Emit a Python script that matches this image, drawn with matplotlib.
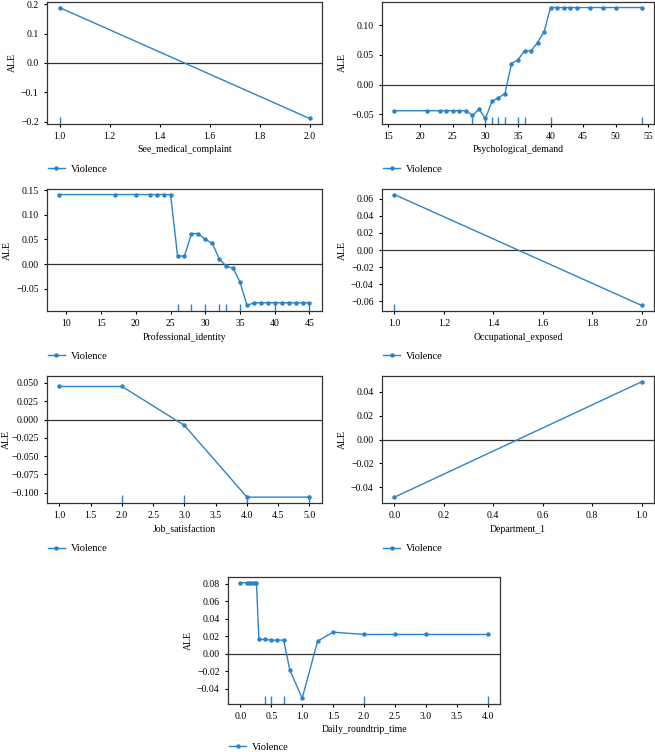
import matplotlib
matplotlib.use("Agg")
import matplotlib.pyplot as plt
import matplotlib.transforms as mtransforms
from matplotlib.ticker import MultipleLocator

plt.rcParams['font.family'] = ['Liberation Serif', 'DejaVu Serif']
plt.rcParams['font.size'] = 7
plt.rcParams['axes.linewidth'] = 0.9
plt.rcParams['xtick.major.size'] = 2.5
plt.rcParams['ytick.major.size'] = 2.5
plt.rcParams['xtick.major.width'] = 0.8
plt.rcParams['ytick.major.width'] = 0.8
plt.rcParams['xtick.labelsize'] = 7
plt.rcParams['ytick.labelsize'] = 7
plt.rcParams['axes.labelsize'] = 7
plt.rcParams['axes.edgecolor'] = '#333333'

# ---- data ----
see_x = [1.0, 2.0]
see_y = [0.188, -0.188]
see_rug = [1.0]

psy_x = [16, 21, 23, 24, 25, 26, 27, 28, 29, 30, 31, 32, 33, 34, 35, 36, 37, 38, 39,
         40, 41, 42, 43, 44, 46, 48, 50, 54]
psy_y = [-0.044, -0.044, -0.044, -0.044, -0.044, -0.044, -0.044, -0.052, -0.0415, -0.057,
         -0.028, -0.022, -0.015, 0.0355, 0.042, 0.057, 0.057, 0.071, 0.089,
         0.130, 0.130, 0.130, 0.130, 0.130, 0.130, 0.130, 0.130, 0.130]
psy_rug = [28, 30, 31, 32, 33, 35, 36, 40, 54]

pro_x = [9, 17, 20, 22, 23, 24, 25, 26, 27, 28, 29, 30, 31, 32, 33, 34, 35, 36, 37, 38,
         39, 40, 41, 42, 43, 44, 45]
pro_y = [0.141, 0.141, 0.141, 0.141, 0.141, 0.141, 0.141, 0.0163, 0.0163, 0.0617, 0.0617,
         0.050, 0.042, 0.0108, -0.0047, -0.0081, -0.0366, -0.084, -0.0786, -0.0786,
         -0.0786, -0.0786, -0.0786, -0.0786, -0.0786, -0.0786, -0.0786]
pro_rug = [26, 28, 30, 32, 33, 35, 40, 45]

occ_x = [1.0, 2.0]
occ_y = [0.065, -0.065]
occ_rug = [1.0]

job_x = [1.0, 2.0, 3.0, 4.0, 5.0]
job_y = [0.0452, 0.0452, -0.0081, -0.106, -0.106]
job_rug = [2.0, 3.0, 4.0, 5.0]

dep_x = [0.0, 1.0]
dep_y = [-0.0485, 0.0485]
dep_rug = []

day_x = [0.0, 0.1, 0.14, 0.18, 0.22, 0.26, 0.3, 0.4, 0.5, 0.6, 0.7, 0.8, 1.0, 1.25, 1.5,
         2.0, 2.5, 3.0, 4.0]
day_y = [0.081, 0.081, 0.081, 0.081, 0.081, 0.081, 0.0163, 0.0163, 0.0155, 0.0155, 0.0155,
         -0.0186, -0.0508, 0.0144, 0.0246, 0.022, 0.022, 0.022, 0.022]
day_rug = [0.4, 0.5, 0.7, 2.0, 4.0]

panels = [
    ("See_medical_complaint", see_x, see_y, see_rug),
    ("Psychological_demand", psy_x, psy_y, psy_rug),
    ("Professional_identity", pro_x, pro_y, pro_rug),
    ("Occupational_exposed", occ_x, occ_y, occ_rug),
    ("Job_satisfaction", job_x, job_y, job_rug),
    ("Department_1", dep_x, dep_y, dep_rug),
    ("Daily_roundtrip_time", day_x, day_y, day_rug),
]
series_label = "Violence"

# tick steps per panel (x, y)
x_steps = [0.2, 5, 5, 0.2, 0.5, 0.2, 0.5]
y_steps = [0.1, 0.05, 0.05, 0.02, 0.025, 0.02, 0.02]
y_limits = [None, None, None, None, (-0.114, 0.0595), None, None]
legend_y = [-0.37, -0.37, -0.37, -0.37, -0.36, -0.36, -0.34]
ylabel_x = [None, None, None, None, -0.13, None, None]

W, H = 655, 752
# pixel boxes (left, top, right, bottom)
boxes = [
    (47, 2, 322, 124),
    (382, 2, 654, 124),
    (47, 189, 322, 311),
    (382, 189, 654, 311),
    (47, 376, 322, 503),
    (382, 376, 654, 503),
    (228, 577, 500, 704),
]

color = '#2b83c9'
fig = plt.figure(figsize=(W / 100, H / 100), dpi=100)
for i, ((name, xs, ys, rug), (l, t, r, b)) in enumerate(zip(panels, boxes)):
    ax = fig.add_axes([l / W, 1 - b / H, (r - l) / W, (b - t) / H])
    ax.plot(xs, ys, color=color, lw=1.0, marker='o', markersize=2.2, label=series_label)
    ax.axhline(0, color='#333333', lw=0.9, zorder=0)
    if rug:
        trans = mtransforms.blended_transform_factory(ax.transData, ax.transAxes)
        ax.vlines(rug, 0, 0.06, transform=trans, color=color, lw=1.0)
    ax.xaxis.set_major_locator(MultipleLocator(x_steps[i]))
    ax.yaxis.set_major_locator(MultipleLocator(y_steps[i]))
    if y_limits[i] is not None:
        ax.set_ylim(*y_limits[i])
    ax.set_xlabel(name, labelpad=3)
    ax.set_ylabel("ALE", labelpad=3)
    if ylabel_x[i] is not None:
        ax.yaxis.set_label_coords(ylabel_x[i], 0.5)
    ax.legend(loc='center left', bbox_to_anchor=(-0.03, legend_y[i]), frameon=False,
              handlelength=1.6, handletextpad=0.6, fontsize=7.5)

fig.savefig("out.png", dpi=100)
